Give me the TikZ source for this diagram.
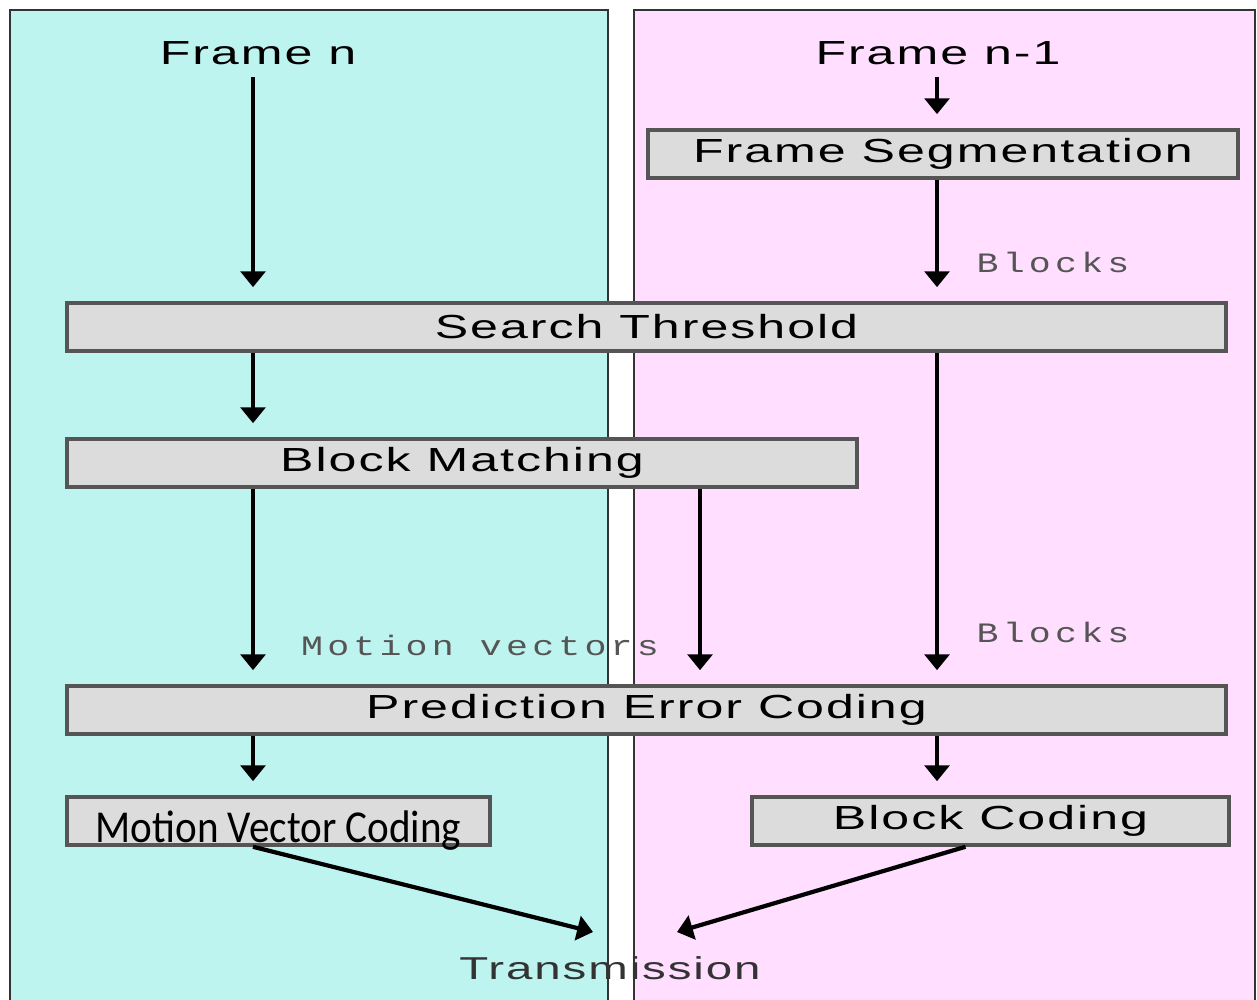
\documentclass[tikz,border=0pt]{standalone}
\usepackage{fontspec}
\setmainfont{Liberation Sans}
\newfontfamily\widefont[FakeStretch=1.5,LetterSpace=6]{Liberation Sans}
\newfontfamily\monowide[FakeStretch=1.3,LetterSpace=15]{Liberation Mono}
\newfontfamily\narrowfont[FakeStretch=0.9]{Carlito}
\usetikzlibrary{arrows.meta}

\definecolor{leftbg}{HTML}{BEF4EF}
\definecolor{rightbg}{HTML}{FFDEFF}
\definecolor{boxfill}{HTML}{DCDCDC}
\definecolor{boxline}{HTML}{555555}
\definecolor{panelline}{HTML}{333333}
\definecolor{labelgray}{HTML}{555555}

\tikzset{
  proc/.style={draw=boxline, line width=1pt, fill=boxfill, minimum height=0.48cm,
    inner sep=0pt, font=\widefont\fontsize{9.5}{11}\selectfont},
  flow/.style={-{Triangle[width=7pt,length=4.5pt]}, line width=1.2pt, shorten >=4pt},
  lbl/.style={font=\monowide\fontsize{8}{9}\selectfont, text=labelgray},
  ttl/.style={font=\widefont\fontsize{9.5}{11}\selectfont},
}

\begin{document}
\begin{tikzpicture}

\useasboundingbox (0,0) rectangle (12.57,-10);

% the two panels
\filldraw[fill=leftbg, draw=panelline, line width=0.8pt] (0.10,-0.10) rectangle (6.08,-10.3);
\filldraw[fill=rightbg, draw=panelline, line width=0.8pt] (6.34,-0.10) rectangle (12.55,-10.3);

\coordinate (lx) at (2.53,0);
\coordinate (mx) at (7.00,0);
\coordinate (rx) at (9.37,0);

\node[ttl] (fn) at (2.58,-0.53) {Frame n};
\node[ttl] (fn1) at (9.38,-0.53) {Frame n-1};

\node[proc, minimum width=5.90cm] (fs) at (9.43,-1.54) {Frame Segmentation};
\node[proc, minimum width=11.59cm] (st) at (6.465,-3.27) {Search Threshold};
\node[proc, minimum width=7.90cm] (bm) at (4.62,-4.63) {Block Matching};
\node[proc, minimum width=11.59cm] (pec) at (6.465,-7.10) {Prediction Error Coding};
\node[proc, minimum width=4.23cm, text height=0.45cm, text depth=0.03cm,
  font=\narrowfont\fontsize{13}{15}\selectfont] (mvc) at (2.785,-8.21) {Motion Vector Coding};
\node[proc, minimum width=4.77cm] (bc) at (9.905,-8.21) {Block Coding};

\node[lbl] (bl1) at (10.53,-2.62) {Blocks};
\node[lbl] (bl2) at (10.53,-6.32) {Blocks};
\node[lbl] (mv) at (4.80,-6.45) {Motion vectors};

\node[ttl, font=\widefont\fontsize{9}{11}\selectfont, text=panelline] (tx) at (6.10,-9.68) {Transmission};
\coordinate (tl) at (5.93,-9.32);
\coordinate (tr) at (6.77,-9.32);

\draw[flow] (lx |- fn.south) -- (lx |- st.north);
\draw[flow] (rx |- fn1.south) -- (rx |- fs.north);
\draw[flow] (rx |- fs.south) -- (rx |- st.north);
\draw[flow] (lx |- st.south) -- (lx |- bm.north);
\draw[flow] (rx |- st.south) -- (rx |- pec.north);
\draw[flow] (lx |- bm.south) -- (lx |- pec.north);
\draw[flow] (mx |- bm.south) -- (mx |- pec.north);
\draw[flow] (lx |- pec.south) -- (lx |- mvc.north);
\draw[flow] (rx |- pec.south) -- (rx |- bc.north);

\draw[flow, shorten >=0pt] (lx |- mvc.south) -- (tl);
\draw[flow, shorten >=0pt] ([xshift=-0.25cm]bc.south) -- (tr);

\end{tikzpicture}
\end{document}
